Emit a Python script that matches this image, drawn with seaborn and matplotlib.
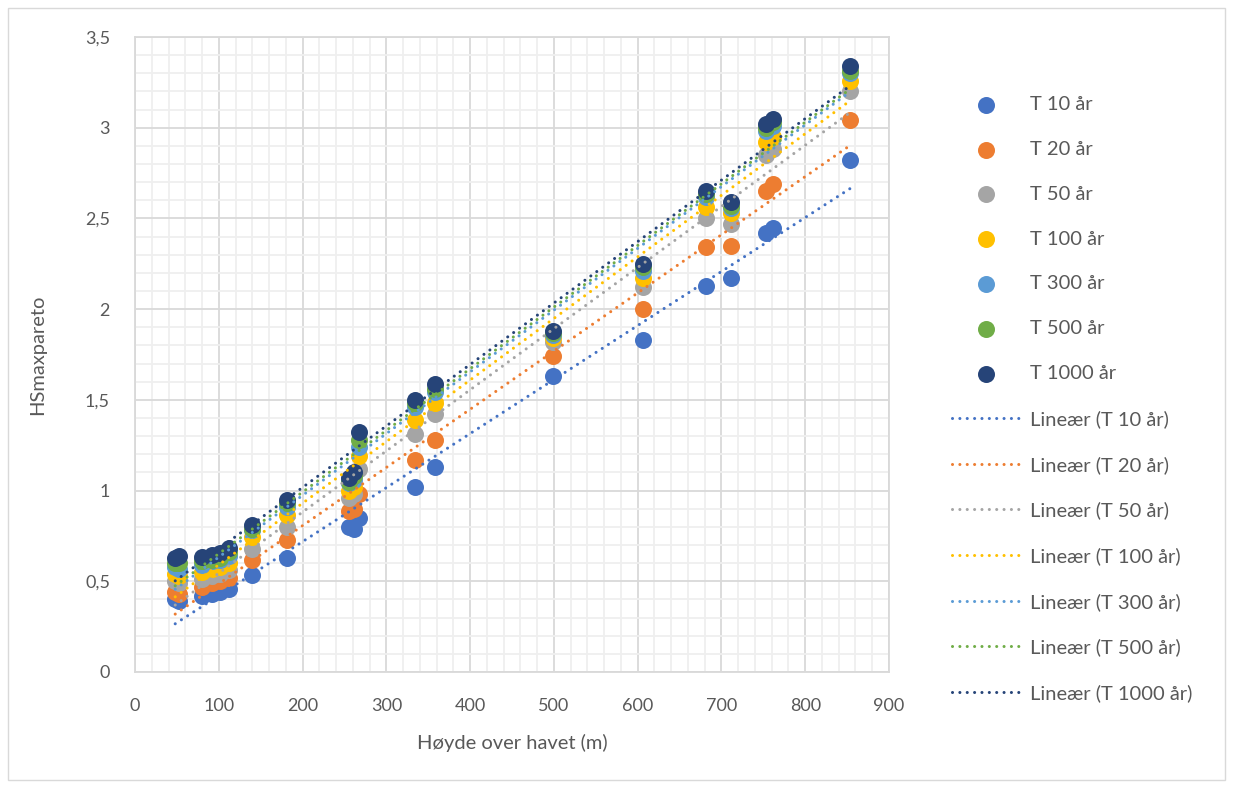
import matplotlib
matplotlib.use('Agg')
import matplotlib.pyplot as plt
from matplotlib.patches import Rectangle
from matplotlib.ticker import MultipleLocator
import seaborn as sns

# høyde over havet (m) for hver målestasjon
hoyde = [48, 53, 80, 92, 102, 112, 140, 181, 255, 262, 267, 334, 358, 499, 606, 681, 711, 753, 761, 854]

# HSmaxpareto per returperiode
t10 = [0.40, 0.39, 0.42, 0.43, 0.44, 0.46, 0.535, 0.63, 0.80, 0.79, 0.85, 1.02, 1.13, 1.63, 1.83, 2.13, 2.17, 2.42, 2.45, 2.82]
t20 = [0.44, 0.43, 0.47, 0.49, 0.50, 0.52, 0.62, 0.73, 0.89, 0.90, 0.98, 1.17, 1.28, 1.74, 2.00, 2.34, 2.35, 2.65, 2.69, 3.04]
t50 = [0.50, 0.49, 0.51, 0.53, 0.54, 0.56, 0.68, 0.80, 0.96, 0.98, 1.12, 1.31, 1.42, 1.82, 2.12, 2.50, 2.47, 2.85, 2.88, 3.20]
t100 = [0.54, 0.53, 0.55, 0.57, 0.58, 0.60, 0.745, 0.865, 1.00, 1.02, 1.19, 1.39, 1.48, 1.84, 2.17, 2.565, 2.53, 2.92, 2.95, 3.26]
t300 = [0.58, 0.57, 0.59, 0.61, 0.62, 0.64, 0.78, 0.91, 1.04, 1.06, 1.24, 1.46, 1.545, 1.86, 2.21, 2.62, 2.56, 2.98, 3.01, 3.30]
t500 = [0.60, 0.60, 0.61, 0.62, 0.63, 0.66, 0.79, 0.93, 1.05, 1.08, 1.28, 1.48, 1.56, 1.87, 2.23, 2.635, 2.57, 3.00, 3.03, 3.31]
t1000 = [0.63, 0.64, 0.635, 0.645, 0.655, 0.685, 0.81, 0.95, 1.07, 1.10, 1.325, 1.50, 1.59, 1.88, 2.25, 2.65, 2.59, 3.02, 3.05, 3.34]

serier = [t10, t20, t50, t100, t300, t500, t1000]
navn = ['T 10 år', 'T 20 år', 'T 50 år', 'T 100 år', 'T 300 år', 'T 500 år', 'T 1000 år']
farger = ['#4472C4', '#ED7D31', '#A5A5A5', '#FFC000', '#5B9BD5', '#70AD47', '#264478']

ytick_verdier = [0, 0.5, 1, 1.5, 2, 2.5, 3, 3.5]
ytick_tekst = ['0', '0,5', '1', '1,5', '2', '2,5', '3', '3,5']
xtick_verdier = [0, 100, 200, 300, 400, 500, 600, 700, 800, 900]

sns.set_theme(style='white')
plt.rcParams['font.family'] = ['Lato', 'DejaVu Sans']
tekstfarge = '#595959'

fig = plt.figure(figsize=(12.33, 7.88), dpi=100)
ax = fig.add_axes([135 / 1233, 1 - 672 / 788, (889 - 135) / 1233, (672 - 37) / 788])

# punkter
for y, lab, c in zip(serier, navn, farger):
    sns.scatterplot(x=hoyde, y=y, ax=ax, color=c, s=150, linewidth=0, label=lab, zorder=3)

# lineære trendlinjer (prikket, som i Excel)
for y, lab, c in zip(serier, navn, farger):
    sns.regplot(x=hoyde, y=y, ax=ax, scatter=False, ci=None, color=c,
                label='Lineær (' + lab + ')',
                line_kws=dict(lw=2.2, linestyle=(0, (0.01, 2.4)), dash_capstyle='round', zorder=4))

ax.set_xlim(0, 900)
ax.set_ylim(0, 3.5)
ax.set_xticks(xtick_verdier)
ax.set_xticklabels([str(v) for v in xtick_verdier])
ax.set_yticks(ytick_verdier)
ax.set_yticklabels(ytick_tekst)
ax.xaxis.set_minor_locator(MultipleLocator(20))
ax.yaxis.set_minor_locator(MultipleLocator(0.1))
ax.grid(which='major', color='#D9D9D9', lw=1.3, zorder=0)
ax.grid(which='minor', color='#EFEFEF', lw=1.3, zorder=0)
ax.set_axisbelow(True)
ax.tick_params(which='both', length=0, labelsize=13, labelcolor=tekstfarge)
ax.tick_params(axis='x', pad=19)
ax.tick_params(axis='y', pad=18)
for s in ax.spines.values():
    s.set_color('#D9D9D9')
    s.set_linewidth(1.3)

ax.set_xlabel('Høyde over havet (m)', fontsize=14.5, color=tekstfarge, labelpad=14)
ax.set_ylabel('HSmaxpareto', fontsize=14.5, color=tekstfarge, labelpad=28)

ax.legend(loc='center left', bbox_to_anchor=(952 / 1233, 1 - 399 / 788), bbox_transform=fig.transFigure,
          frameon=False, fontsize=14.5, handlelength=3.4, labelspacing=1.38, handletextpad=0.45,
          labelcolor=tekstfarge, borderaxespad=0, borderpad=0)

# ramme rundt diagramområdet
fig.patches.append(Rectangle((8 / 1233, 8 / 788), 1 - 16 / 1233, 1 - 16 / 788, transform=fig.transFigure,
                             fill=False, edgecolor='#D9D9D9', lw=1))

plt.savefig('out.png', dpi=100)
